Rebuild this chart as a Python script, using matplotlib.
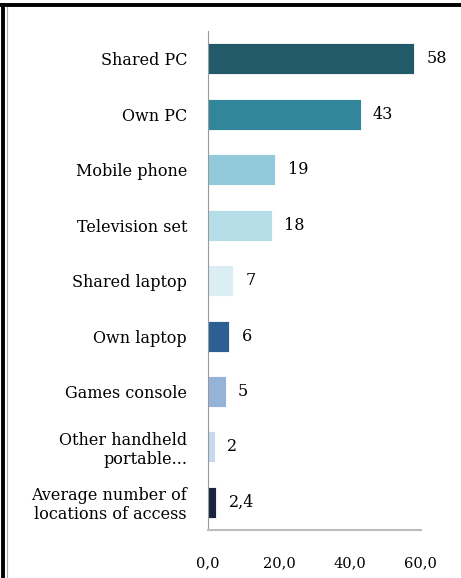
import matplotlib
matplotlib.use("Agg")
import matplotlib.pyplot as plt
from matplotlib.lines import Line2D

plt.rcParams['font.family'] = ['DejaVu Serif']

categories = ["Shared PC", "Own PC", "Mobile phone", "Television set",
              "Shared laptop", "Own laptop", "Games console",
              "Other handheld\nportable...", "Average number of\nlocations of access"]
values = [58, 43, 19, 18, 7, 6, 5, 2, 2.4]
value_labels = ["58", "43", "19", "18", "7", "6", "5", "2", "2,4"]
colors = ["#235a6a", "#32869c", "#92cadb", "#b5dde8", "#dbeef4",
          "#2e5f94", "#95b3d7", "#c6d9f0", "#17253f"]
xticks = [0, 20, 40, 60]
xtick_labels = ["0,0", "20,0", "40,0", "60,0"]

fig = plt.figure(figsize=(4.61, 5.78), dpi=100)
ax = fig.add_axes([0.451, 0.083, 0.462, 0.863])

ypos = list(range(len(categories)))[::-1]
ax.barh(ypos, values, height=0.56, color=colors, edgecolor="white", linewidth=0.6)
for y, v, lab in zip(ypos, values, value_labels):
    ax.text(v + 3.5, y, lab, va="center", ha="left", fontsize=11.5, color="black")

ax.set_xlim(0, 60)
ax.set_ylim(-0.5, len(categories) - 0.5)
ax.set_yticks(ypos)
ax.set_yticklabels(categories, fontsize=11.5, linespacing=1.15, color="black")
ax.set_xticks(xticks)
ax.set_xticklabels(xtick_labels, fontsize=10.5)
ax.tick_params(axis="both", length=0)
ax.tick_params(axis="x", pad=19)
ax.tick_params(axis="y", pad=15)

for s in ["top", "right"]:
    ax.spines[s].set_visible(False)
ax.spines["left"].set_color("#999999")
ax.spines["bottom"].set_color("#bbbbbb")
ax.spines["bottom"].set_linewidth(1.5)

# image frame (top and left edges)
fig.add_artist(Line2D([0, 1], [1 - 5 / 578, 1 - 5 / 578], color="black", lw=2.8,
                      transform=fig.transFigure))
fig.add_artist(Line2D([3 / 461, 3 / 461], [0, 1 - 5 / 578], color="black", lw=2.8,
                      transform=fig.transFigure))
fig.add_artist(Line2D([6.5 / 461, 6.5 / 461], [0, 1 - 7 / 578], color="#aaaaaa", lw=0.8,
                      transform=fig.transFigure))

fig.savefig("out.png", dpi=100)
